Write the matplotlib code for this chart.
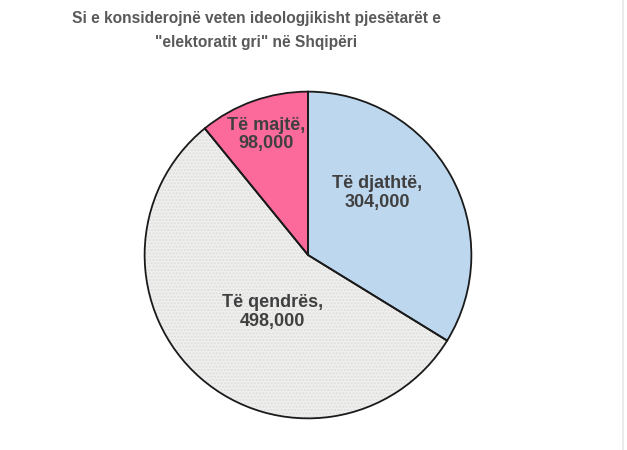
import numpy as np
import matplotlib.pyplot as plt
from matplotlib.patches import Wedge

categories = ["Të djathtë", "Të qendrës", "Të majtë"]
values = [304000, 498000, 98000]
colors = ["#bdd7ee", "#efefed", "#fb6a9b"]

# label placement (fraction of radius, angle in degrees) per slice
label_pos = [(0.57, 42), (0.41, 238), (0.78, 109)]

plt.rcParams['font.family'] = ['Liberation Sans', 'DejaVu Sans']

fig = plt.figure(figsize=(6.27, 4.5), dpi=100)
fig.patch.set_facecolor("white")

ax = fig.add_axes([(308 - 165) / 627, (450 - 420) / 450, 330 / 627, 330 / 450])
wedges, texts = ax.pie(values, colors=colors, startangle=90, counterclock=False,
                       radius=1, labels=[f"{c},\n{v:,}" for c, v in zip(categories, values)],
                       labeldistance=0.6,
                       wedgeprops=dict(edgecolor="none", linewidth=0),
                       textprops=dict(fontsize=13, fontweight="bold", color="#404040",
                                      ha="center", va="center", linespacing=1.15))

# fine speckle on the centre slice
w = wedges[1]
ax.add_patch(Wedge(w.center, w.r, w.theta1, w.theta2, fill=False, hatch=".....",
                   edgecolor="#dedede", linewidth=0, zorder=w.get_zorder() + 0.1))

# outlines
for w in wedges:
    ax.add_patch(Wedge(w.center, w.r, w.theta1, w.theta2, fill=False,
                       edgecolor="#1a1a1a", linewidth=1.3, zorder=w.get_zorder() + 0.2))

for t, (d, a) in zip(texts, label_pos):
    t.set_position((d * np.cos(np.radians(a)), d * np.sin(np.radians(a))))
    t.set_ha("center")
    t.set_zorder(5)

ax.set_xlim(-1.01, 1.01)
ax.set_ylim(-1.01, 1.01)
ax.set_aspect("equal")
ax.axis("off")

fig.text(256 / 627, 1 - 18 / 450, "Si e konsiderojnë veten ideologjikisht pjesëtarët e",
         ha="center", va="center", fontsize=11.2, fontweight="bold", color="#595959")
fig.text(256 / 627, 1 - 42 / 450, "\"elektoratit gri\" në Shqipëri",
         ha="center", va="center", fontsize=11.2, fontweight="bold", color="#595959")

fig.add_artist(plt.Line2D([623 / 627, 623 / 627], [0, 1], color="#e8e8e8", linewidth=1.2))

fig.savefig("out.png", dpi=100, facecolor="white")
